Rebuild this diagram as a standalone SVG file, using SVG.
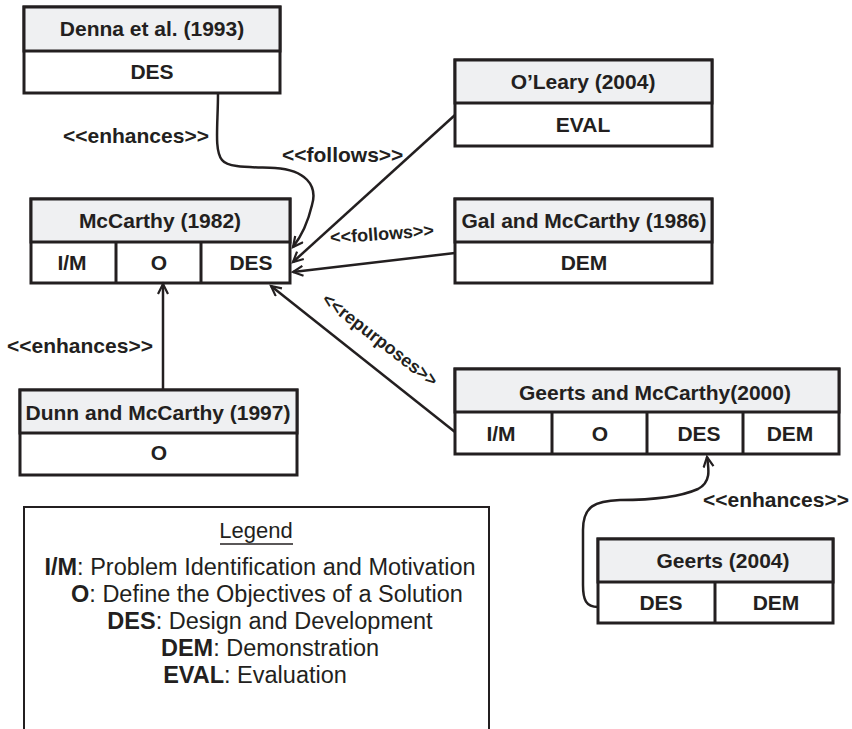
<svg xmlns="http://www.w3.org/2000/svg" width="852" height="729" viewBox="0 0 852 729">
<style>
.box{fill:#ffffff;stroke:#231f20;stroke-width:3}
.hdr{fill:#eff0f2;stroke:#231f20;stroke-width:3}
.ln{stroke:#231f20;stroke-width:3}
.t{font-family:"Liberation Sans",Arial,sans-serif;font-weight:bold;font-size:21px;fill:#231f20;text-anchor:middle}
.lbl{font-family:"Liberation Sans",Arial,sans-serif;font-weight:bold;font-size:21px;fill:#231f20}
.con{fill:none;stroke:#231f20;stroke-width:2.5;marker-end:url(#arr)}
.lg{font-family:"Liberation Sans",Arial,sans-serif;font-size:23.5px;fill:#231f20;text-anchor:middle}
</style>
<defs>
<marker id="arr" markerWidth="14" markerHeight="14" refX="11" refY="6" orient="auto" markerUnits="userSpaceOnUse">
<path d="M1,1 L11,6 L1,11" fill="none" stroke="#231f20" stroke-width="2.2"/>
</marker>
</defs>
<rect width="852" height="729" fill="#ffffff"/>

<g id="denna">
<rect class="box" x="24" y="7" width="256" height="86"/>
<rect class="hdr" x="24" y="7" width="256" height="44"/>
<text class="t" x="152" y="36">Denna et al. (1993)</text>
<text class="t" x="152" y="79">DES</text>
</g>

<g id="oleary">
<rect class="box" x="455" y="60" width="257" height="86"/>
<rect class="hdr" x="455" y="60" width="257" height="43"/>
<text class="t" x="583" y="89">O’Leary (2004)</text>
<text class="t" x="583" y="132">EVAL</text>
</g>

<g id="gal">
<rect class="box" x="455" y="199" width="257" height="84"/>
<rect class="hdr" x="455" y="199" width="257" height="43"/>
<text class="t" x="584" y="228">Gal and McCarthy (1986)</text>
<text class="t" x="584" y="270">DEM</text>
</g>

<g id="mccarthy">
<rect class="box" x="31" y="199" width="259" height="84"/>
<rect class="hdr" x="31" y="199" width="259" height="43"/>
<line class="ln" x1="116" y1="242" x2="116" y2="283"/>
<line class="ln" x1="201" y1="242" x2="201" y2="283"/>
<text class="t" x="160" y="228">McCarthy (1982)</text>
<text class="t" x="72" y="270">I/M</text>
<text class="t" x="159" y="270">O</text>
<text class="t" x="251" y="270">DES</text>
</g>

<g id="dunn">
<rect class="box" x="20" y="390" width="277" height="85"/>
<rect class="hdr" x="20" y="390" width="277" height="43"/>
<text class="t" x="158" y="420">Dunn and McCarthy (1997)</text>
<text class="t" x="159" y="460">O</text>
</g>

<g id="geerts-mccarthy">
<rect class="box" x="455" y="369" width="384" height="85"/>
<rect class="hdr" x="455" y="369" width="384" height="43"/>
<line class="ln" x1="552" y1="412" x2="552" y2="454"/>
<line class="ln" x1="647" y1="412" x2="647" y2="454"/>
<line class="ln" x1="743" y1="412" x2="743" y2="454"/>
<text class="t" x="655" y="400">Geerts and McCarthy(2000)</text>
<text class="t" x="501" y="441">I/M</text>
<text class="t" x="600" y="441">O</text>
<text class="t" x="699" y="441">DES</text>
<text class="t" x="790" y="441">DEM</text>
</g>

<g id="geerts2004">
<rect class="box" x="598" y="539" width="235" height="84"/>
<rect class="hdr" x="598" y="539" width="235" height="43"/>
<line class="ln" x1="715" y1="582" x2="715" y2="623"/>
<text class="t" x="723" y="568">Geerts (2004)</text>
<text class="t" x="661" y="610">DES</text>
<text class="t" x="776" y="610">DEM</text>
</g>

<g id="connectors">
<path class="con" d="M218,93 C218,125 214,150 222,160 C228,168 250,167 275,168 C305,170 318,185 312,205 C308,222 300,238 293,247"/>
<path class="con" d="M455,115 L293,262"/>
<path class="con" d="M455,253 L293,272"/>
<path class="con" d="M163,390 L163,284"/>
<path class="con" d="M455,432 L271,286"/>
<path class="con" d="M598,607 C586,607 583,600 583,585 L583,530 C583,506 595,501 620,500 C655,500 680,497 698,489 C711,482 709,470 707,457"/>
</g>

<g id="labels">
<text class="lbl" x="63" y="143">&lt;&lt;enhances&gt;&gt;</text>
<text class="lbl" x="282" y="162">&lt;&lt;follows&gt;&gt;</text>
<text class="lbl" x="382" y="240" style="font-size:18px;text-anchor:middle" transform="rotate(-4 382 234)">&lt;&lt;follows&gt;&gt;</text>
<text class="lbl" x="7" y="353">&lt;&lt;enhances&gt;&gt;</text>
<text class="lbl" x="0" y="6" style="font-size:18px;text-anchor:middle" transform="translate(380 340) rotate(37.5)">&lt;&lt;repurposes&gt;&gt;</text>
<text class="lbl" x="703" y="507">&lt;&lt;enhances&gt;&gt;</text>
</g>

<g id="legend">
<rect x="24" y="507" width="465" height="240" fill="none" stroke="#231f20" stroke-width="2"/>
<text class="lg" x="256" y="538" style="font-size:22px">Legend</text>
<line x1="220" y1="544" x2="293" y2="544" stroke="#231f20" stroke-width="1.5"/>
<text class="lg" x="260" y="575"><tspan font-weight="bold">I/M</tspan>: Problem Identification and Motivation</text>
<text class="lg" x="267" y="602"><tspan font-weight="bold">O</tspan>: Define the Objectives of a Solution</text>
<text class="lg" x="270" y="629"><tspan font-weight="bold">DES</tspan>: Design and Development</text>
<text class="lg" x="270" y="656"><tspan font-weight="bold">DEM</tspan>: Demonstration</text>
<text class="lg" x="255" y="683"><tspan font-weight="bold">EVAL</tspan>: Evaluation</text>
</g>
</svg>
